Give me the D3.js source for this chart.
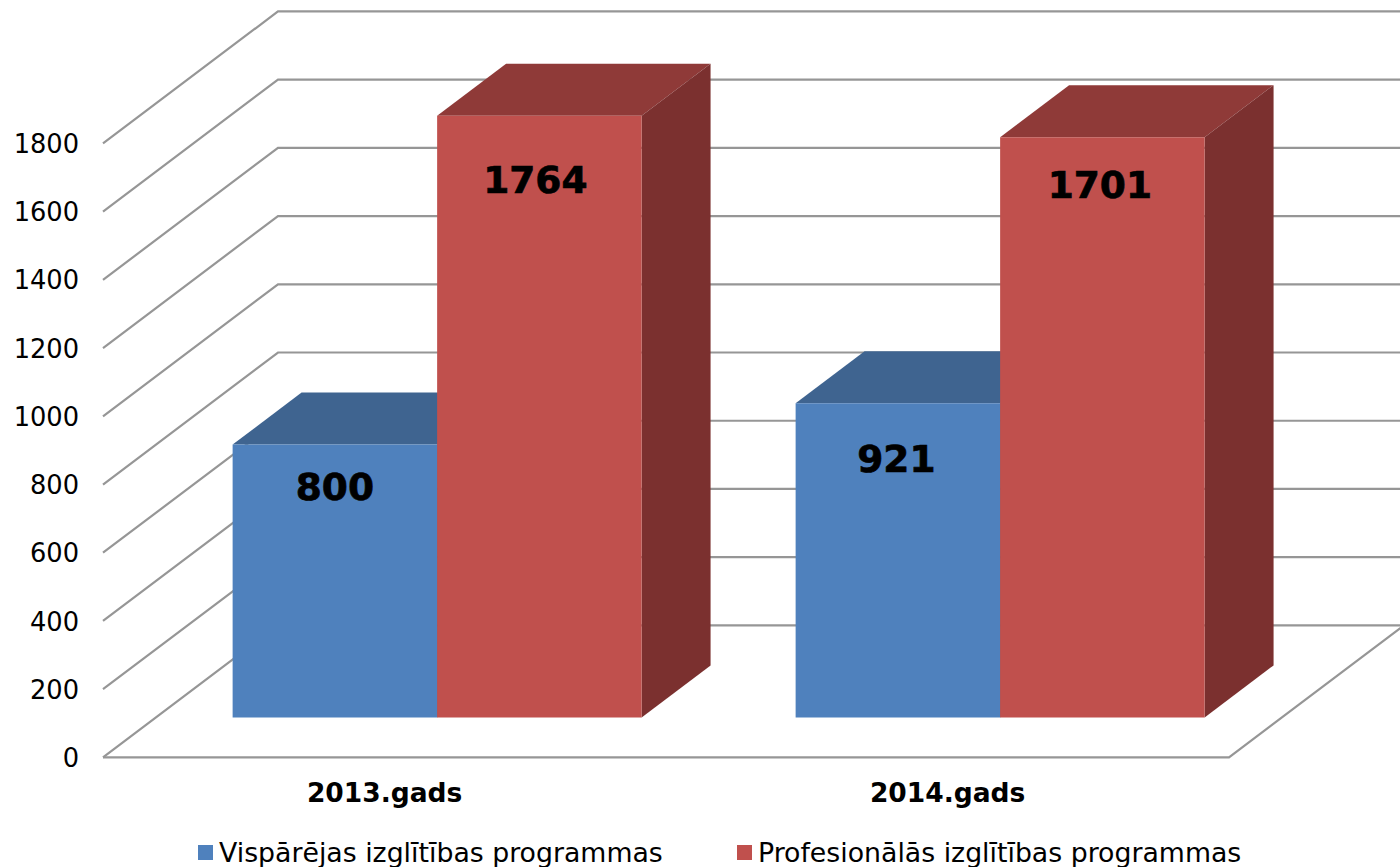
<!DOCTYPE html>
<html><head><meta charset="utf-8">
<script src="https://cdn.jsdelivr.net/npm/d3@7"></script>
<style>html,body{margin:0;padding:0;background:#fff}svg{display:block}text{font-family:"DejaVu Sans",sans-serif;fill:#000}</style>
</head><body><svg id="c" width="1400" height="867"></svg>
<script>
const categories = ["2013.gads", "2014.gads"];
const seriesNames = ["Vispārējas izglītības programmas", "Profesionālās izglītības programmas"];
const vispValues = [800, 921];
const profValues = [1764, 1701];
const tickValues = [0, 200, 400, 600, 800, 1000, 1200, 1400, 1600, 1800];

const frontColors = ["#4F81BD", "#C0504D"];
const topColors = ["#3F6490", "#8F3A38"];
const sideColors = ["#375A82", "#7B302F"];
const gridColor = "#969696";

const svg = d3.select("#c");
const y = d3.scaleLinear().domain([0, 1800]).range([757.4, 143.4]);
const x0 = d3.scaleBand().domain(categories).range([102.6, 1228.6]);
const x1 = d3.scaleBand().domain([0, 1]).range([-204.5, 204.5]);
const depth = {x: 175, y: 132, near: 0.303, far: 0.697};
const proj = (px, v, d) => [px + depth.x * d, y(v) - depth.y * d];
const poly = pts => pts.map(p => p.join(",")).join(" ");

// walls and floor
const grid = svg.append("g").attr("fill", "none").attr("stroke", gridColor).attr("stroke-width", 2.2);
const xL = 103, xR = 1229;
tickValues.forEach(t => {
  const a = proj(xL, t, 0), b = proj(xL, t, 1), c = [1400, b[1]];
  grid.append("polyline").attr("points", poly([a, b, c]));
});
grid.append("polyline").attr("points", poly([proj(xL, 0, 0), proj(xR, 0, 0), proj(xR, 0, 1)]));

// bars
const rows = categories.flatMap((c, i) => [
  {c, s: 0, v: vispValues[i]},
  {c, s: 1, v: profValues[i]}
]);
const labelNudge = {
  "2013.gads0": [0, 42.5], "2013.gads1": [-4, 64.5],
  "2014.gads0": [-1.5, 56], "2014.gads1": [-2.5, 47.5]
};
const bars = svg.append("g").selectAll("g").data(rows).join("g");
bars.each(function(d) {
  const g = d3.select(this);
  const l = x0(d.c) + x0.bandwidth() / 2 + x1(d.s);
  const r = l + x1.bandwidth();
  g.append("polygon").attr("fill", topColors[d.s])
    .attr("points", poly([proj(l, d.v, depth.near), proj(r, d.v, depth.near), proj(r, d.v, depth.far), proj(l, d.v, depth.far)]));
  g.append("polygon").attr("fill", sideColors[d.s])
    .attr("points", poly([proj(r, 0, depth.near), proj(r, d.v, depth.near), proj(r, d.v, depth.far), proj(r, 0, depth.far)]));
  g.append("polygon").attr("fill", frontColors[d.s])
    .attr("points", poly([proj(l, 0, depth.near), proj(r, 0, depth.near), proj(r, d.v, depth.near), proj(l, d.v, depth.near)]));
});
// data labels over all bars
svg.append("g").selectAll("text").data(rows).join("text")
  .attr("text-anchor", "middle").attr("dominant-baseline", "central")
  .attr("font-size", 37.5).attr("font-weight", 700)
  .attr("stroke", "#000").attr("stroke-width", 0.7)
  .attr("x", d => proj(x0(d.c) + x0.bandwidth() / 2 + x1(d.s) + x1.bandwidth() / 2, 0, depth.near)[0] + labelNudge[d.c + d.s][0])
  .attr("y", d => proj(0, d.v, depth.near)[1] + labelNudge[d.c + d.s][1])
  .text(d => d.v);

// value axis labels
svg.append("g").selectAll("text").data(tickValues).join("text")
  .attr("x", 79).attr("y", d => y(d) + 0.6).attr("text-anchor", "end").attr("dominant-baseline", "central")
  .attr("font-size", 25.7).text(d => d);

// category labels
svg.append("g").selectAll("text").data(categories).join("text")
  .attr("x", d => x0(d) + x0.bandwidth() / 2 + 0.5).attr("y", 792.5)
  .attr("text-anchor", "middle").attr("dominant-baseline", "central")
  .attr("font-size", 26.5).attr("font-weight", 700).text(d => d);

// legend
const legendX = [198, 737];
const legend = svg.append("g").selectAll("g").data(seriesNames).join("g")
  .attr("transform", (d, i) => `translate(${legendX[i]},845)`);
legend.append("rect").attr("width", 15).attr("height", 15).attr("fill", (d, i) => frontColors[i]);
legend.append("text").attr("x", 21).attr("y", 7.5).attr("dominant-baseline", "central")
  .attr("font-size", 26.75).text(d => d);
</script></body></html>
